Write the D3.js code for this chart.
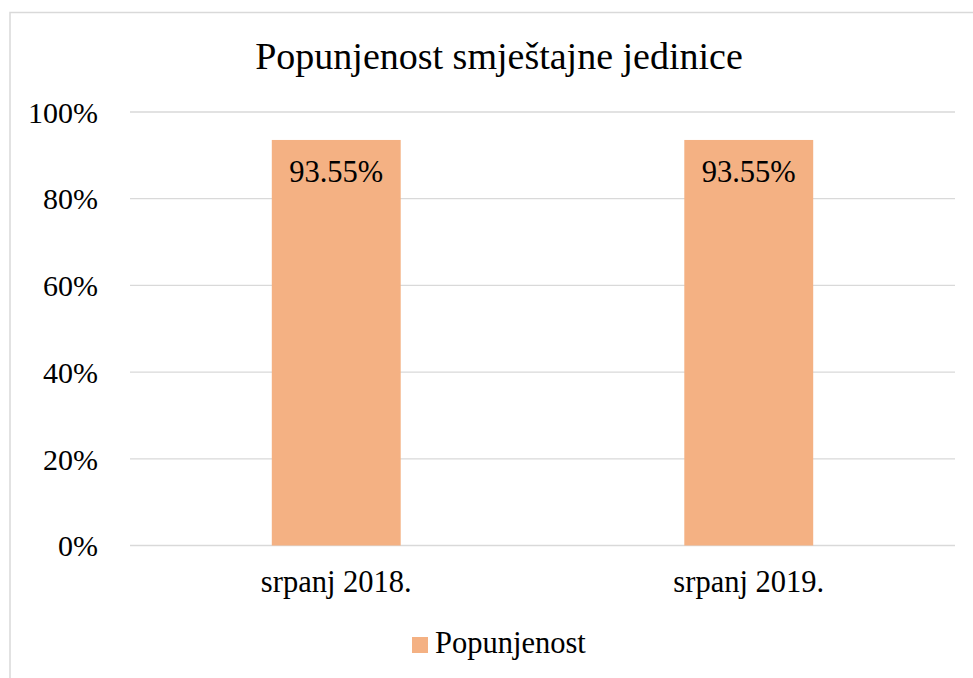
<!DOCTYPE html>
<html lang="hr">
<head>
<meta charset="utf-8">
<title>Popunjenost smještajne jedinice</title>
<script src="https://cdnjs.cloudflare.com/ajax/libs/d3/7.8.5/d3.min.js"></script>
<style>
body { margin: 0; background: #fff; }
.grid line { stroke: #d9d9d9; stroke-width: 1.3; }
.bar { fill: #f4b183; }
</style>
</head>
<body>
<div id="chart"></div>
<script>
const w = 973;
const h = 678;
const serif = "'Liberation Serif', 'Times New Roman', serif";

// data
const categories = ["srpanj 2018.", "srpanj 2019."];
const values = [0.9355, 0.9355];
const yTicks = [0, 0.2, 0.4, 0.6, 0.8, 1];
const seriesName = "Popunjenost";
const title = "Popunjenost smještajne jedinice";

const plot = { left: 130, right: 955, top: 112, bottom: 545.5 };

const svg = d3.select("#chart")
   .append("svg")
   .attr("width", w)
   .attr("height", h)
   .style("font-family", serif);

// outer chart border (cut off on the right and bottom in the original)
svg.append("rect")
   .attr("x", 10)
   .attr("y", 12.5)
   .attr("width", w + 20)
   .attr("height", h + 20)
   .attr("fill", "none")
   .attr("stroke", "#d9d9d9")
   .attr("stroke-width", 1.5);

const xScale = d3.scaleBand()
   .domain(categories)
   .range([plot.left, plot.right]);

const yScale = d3.scaleLinear()
   .domain([0, 1])
   .range([plot.bottom, plot.top]);

const barW = xScale.bandwidth() * 0.3125;

// gridlines
svg.append("g")
   .attr("class", "grid")
   .selectAll("line")
   .data(yTicks)
   .enter()
   .append("line")
   .attr("x1", plot.left)
   .attr("x2", plot.right)
   .attr("y1", d => yScale(d))
   .attr("y2", d => yScale(d));

// y axis labels
const yAxis = d3.axisLeft(yScale)
   .tickValues(yTicks)
   .tickFormat(d3.format(".0%"))
   .tickSize(0)
   .tickPadding(0);

const gy = svg.append("g")
   .attr("transform", "translate(98,0)")
   .call(yAxis)
   .attr("font-family", null)
   .attr("font-size", null)
   .style("font-family", serif);
gy.select(".domain").remove();
gy.selectAll("text")
   .style("font-family", serif)
   .style("font-size", "30px")
   .attr("fill", "#000")
   .attr("dy", "0.34em");

// bars
svg.selectAll(".bar-rect")
   .data(values)
   .enter()
   .append("rect")
   .attr("class", "bar bar-rect")
   .attr("x", (d, i) => xScale(categories[i]) + xScale.bandwidth() / 2 - barW / 2)
   .attr("y", d => yScale(d))
   .attr("width", barW)
   .attr("height", d => yScale(0) - yScale(d));

// data labels
svg.selectAll(".value")
   .data(values)
   .enter()
   .append("text")
   .attr("class", "value")
   .attr("x", (d, i) => xScale(categories[i]) + xScale.bandwidth() / 2)
   .attr("y", d => yScale(d) + 42)
   .attr("text-anchor", "middle")
   .style("font-family", serif)
   .style("font-size", "30.5px")
   .text(d => d3.format(".2%")(d));

// x axis labels
const xAxis = d3.axisBottom(xScale)
   .tickSize(0)
   .tickPadding(0);

const gx = svg.append("g")
   .attr("transform", "translate(0,592)")
   .call(xAxis)
   .attr("font-family", null)
   .attr("font-size", null);
gx.select(".domain").remove();
gx.selectAll("text")
   .style("font-family", serif)
   .style("font-size", "30.5px")
   .attr("fill", "#000")
   .attr("dy", 0)
   .attr("y", 0);

// title
svg.append("text")
   .attr("x", 499)
   .attr("y", 69)
   .attr("text-anchor", "middle")
   .style("font-size", "38px")
   .text(title);

// legend
const legend = svg.append("g")
   .attr("transform", "translate(412,637)");
legend.append("rect")
   .attr("class", "bar")
   .attr("width", 16)
   .attr("height", 16);
legend.append("text")
   .attr("x", 23)
   .attr("y", 16)
   .style("font-size", "30.5px")
   .text(seriesName);
</script>
</body>
</html>
